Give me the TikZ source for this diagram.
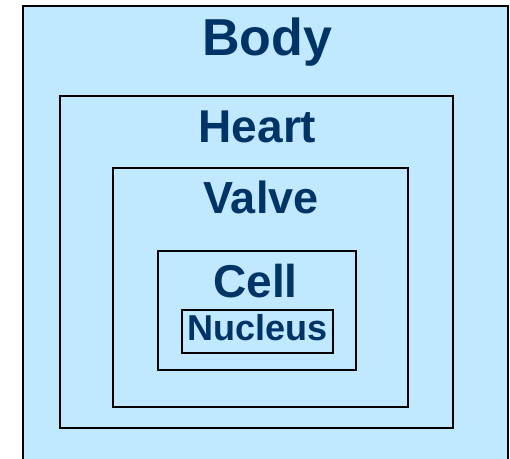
\documentclass[tikz,border=0pt]{standalone}
\usepackage{fontspec}
\setmainfont{Liberation Sans}
\definecolor{fillblue}{HTML}{C0E8FF}
\definecolor{navy}{HTML}{003366}
\begin{document}
\begin{tikzpicture}[x=1pt,y=-1pt,
  box/.style={draw=black,fill=fillblue,line width=1.5pt,inner sep=0pt},
  lbl/.style={text=navy,font=\bfseries,anchor=base,inner sep=0pt}]
\useasboundingbox (0,0) rectangle (510,458);
\clip (0,0) rectangle (510,458);
\fill[white] (0,0) rectangle (510,458);
\draw[box,line width=2pt] (23,5.5) rectangle (508,475);
\node[box,minimum width=393pt,minimum height=332pt] (heart) at (256.5,262) {};
\node[box,minimum width=295pt,minimum height=239pt] (valve) at (260.5,287.5) {};
\node[box,minimum width=198pt,minimum height=119pt] (cell) at (257,310.5) {};
\node[box,minimum width=151pt,minimum height=43pt] (nucleus) at (257.5,331.5) {};
\node[lbl,font=\fontsize{52}{52}\selectfont\bfseries] (bodyt) at (267,55) {Body};
\node[lbl,font=\fontsize{46}{46}\selectfont\bfseries] (heartt) at (257.5,142) {Heart};
\node[lbl,font=\fontsize{45}{45}\selectfont\bfseries] (valvet) at (261,213) {Valve};
\node[lbl,font=\fontsize{46}{46}\selectfont\bfseries] (cellt) at (255.5,297) {Cell};
\node[lbl,font=\fontsize{36}{36}\selectfont\bfseries] (nucleust) at (257.5,340) {Nucleus};
\end{tikzpicture}
\end{document}
